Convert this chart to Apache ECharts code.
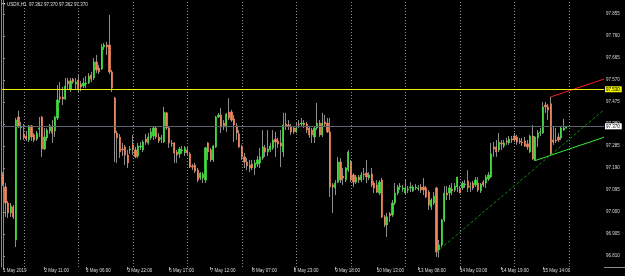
<!DOCTYPE html>
<html><head><meta charset="utf-8">
<script src="https://cdn.jsdelivr.net/npm/echarts@6/dist/echarts.min.js"></script>
<style>html,body{margin:0;padding:0;background:#000;}#c{width:625px;height:276px;}</style>
</head><body><div id="c"></div>
<script>
const symbolName = 'USDX,H1';
const sessionDays = ['1 May','2 May','3 May','6 May','7 May','8 May','9 May','10 May','13 May','14 May','15 May'];
const xTickLabels = ['1 May 2019','2 May 11:00','3 May 06:00','3 May 22:00','6 May 17:00','7 May 12:00','8 May 07:00','8 May 23:00','9 May 18:00','10 May 13:00','13 May 08:00','14 May 03:00','14 May 19:00','15 May 14:00'];
const priceTicks = [96.810, 96.905, 97.000, 97.095, 97.190, 97.285, 97.380, 97.475, 97.570, 97.665, 97.760, 97.855];

const openP = [97.164,97.108,97.039,96.996,97.022,96.879,97.410,97.363,97.337,97.328,97.311,97.372,97.333,97.315,97.358,97.410,97.272,97.320,97.350,97.367,
97.350,97.406,97.497,97.497,97.488,97.566,97.531,97.574,97.553,97.570,97.553,97.544,97.553,97.557,97.592,97.579,97.648,97.622,97.618,97.713,
97.721,97.721,97.605,97.492,97.341,97.324,97.272,97.281,97.246,97.268,97.290,97.268,97.242,97.281,97.268,97.315,97.298,97.320,97.328,97.363,
97.324,97.315,97.302,97.428,97.363,97.298,97.298,97.259,97.251,97.264,97.255,97.268,97.251,97.199,97.203,97.181,97.147,97.147,97.138,97.298,
97.268,97.225,97.281,97.410,97.419,97.384,97.367,97.432,97.432,97.402,97.372,97.337,97.281,97.238,97.216,97.203,97.207,97.190,97.207,97.212,
97.233,97.277,97.259,97.268,97.277,97.315,97.307,97.298,97.259,97.380,97.376,97.367,97.363,97.346,97.380,97.380,97.384,97.380,97.363,97.354,
97.324,97.363,97.384,97.333,97.389,97.384,97.346,97.117,97.104,97.129,97.216,97.155,97.138,97.181,97.216,97.160,97.129,97.151,97.138,97.164,
97.168,97.147,97.164,97.125,97.117,97.082,97.138,96.979,96.944,96.992,96.987,97.039,97.082,97.108,97.099,97.082,97.095,97.104,97.091,97.104,
97.099,97.108,97.108,97.104,97.086,97.022,97.039,97.104,96.836,96.858,96.966,97.082,97.082,97.099,97.095,97.108,97.099,97.104,97.117,97.134,
97.108,97.125,97.117,97.125,97.091,97.129,97.125,97.142,97.151,97.281,97.281,97.268,97.298,97.285,97.307,97.298,97.315,97.328,97.324,97.307,
97.302,97.307,97.294,97.259,97.328,97.225,97.320,97.341,97.341,97.462,97.454,97.467,97.311,97.311,97.324,97.320,97.354,97.362];
const closeP = [97.121,97.039,96.996,97.026,96.979,97.397,97.367,97.367,97.320,97.315,97.372,97.324,97.311,97.341,97.363,97.272,97.324,97.354,97.372,97.341,
97.410,97.484,97.488,97.488,97.544,97.553,97.566,97.561,97.561,97.527,97.540,97.557,97.557,97.587,97.574,97.648,97.613,97.605,97.713,97.721,
97.713,97.605,97.535,97.341,97.320,97.259,97.268,97.246,97.212,97.272,97.272,97.238,97.285,97.285,97.302,97.302,97.324,97.346,97.363,97.324,
97.307,97.320,97.432,97.363,97.298,97.294,97.255,97.246,97.272,97.268,97.277,97.255,97.194,97.194,97.177,97.138,97.168,97.164,97.277,97.259,
97.225,97.285,97.410,97.419,97.367,97.367,97.423,97.406,97.397,97.376,97.341,97.281,97.238,97.216,97.199,97.190,97.190,97.212,97.225,97.238,
97.281,97.259,97.272,97.285,97.311,97.302,97.294,97.285,97.376,97.372,97.372,97.346,97.346,97.363,97.376,97.384,97.376,97.354,97.333,97.333,
97.363,97.384,97.333,97.384,97.380,97.346,97.108,97.108,97.125,97.216,97.138,97.147,97.190,97.259,97.138,97.129,97.151,97.138,97.160,97.160,
97.151,97.160,97.117,97.104,97.086,97.129,96.979,96.944,96.979,96.983,97.039,97.082,97.108,97.112,97.104,97.104,97.099,97.108,97.108,97.108,
97.104,97.095,97.095,97.065,97.030,97.052,97.069,96.827,96.858,96.966,97.082,97.073,97.104,97.091,97.112,97.151,97.082,97.125,97.121,97.104,
97.112,97.104,97.138,97.095,97.121,97.117,97.151,97.160,97.251,97.272,97.259,97.302,97.294,97.298,97.302,97.315,97.311,97.311,97.302,97.302,
97.298,97.285,97.281,97.328,97.229,97.324,97.341,97.346,97.454,97.454,97.441,97.251,97.302,97.307,97.311,97.363,97.363,97.370];
const lowP = [97.112,96.979,96.974,96.979,96.970,96.849,97.363,97.311,97.311,97.307,97.302,97.307,97.302,97.307,97.324,97.238,97.268,97.307,97.337,97.298,
97.324,97.397,97.471,97.462,97.484,97.527,97.518,97.553,97.527,97.518,97.522,97.535,97.535,97.553,97.561,97.570,97.600,97.596,97.613,97.700,
97.678,97.596,97.518,97.216,97.212,97.233,97.242,97.203,97.190,97.251,97.246,97.233,97.233,97.268,97.259,97.290,97.290,97.311,97.311,97.315,
97.298,97.298,97.298,97.354,97.277,97.281,97.212,97.212,97.233,97.251,97.242,97.242,97.190,97.181,97.168,97.129,97.138,97.125,97.125,97.225,
97.216,97.216,97.277,97.406,97.341,97.354,97.346,97.397,97.389,97.302,97.311,97.277,97.225,97.190,97.181,97.172,97.181,97.160,97.194,97.190,
97.225,97.238,97.242,97.259,97.268,97.238,97.277,97.194,97.238,97.354,97.354,97.333,97.337,97.341,97.363,97.367,97.363,97.341,97.320,97.298,
97.298,97.354,97.324,97.324,97.367,97.341,97.065,96.996,97.073,97.125,97.125,97.117,97.129,97.172,97.129,97.108,97.121,97.125,97.129,97.138,
97.125,97.138,97.108,97.082,97.082,97.073,96.974,96.935,96.892,96.957,96.979,97.030,97.073,97.095,97.086,97.073,97.082,97.086,97.086,97.095,
97.091,97.082,97.073,97.060,97.009,97.009,97.030,96.806,96.803,96.849,96.957,97.052,97.052,97.073,97.086,97.086,97.082,97.095,97.104,97.086,
97.086,97.095,97.108,97.086,97.082,97.108,97.104,97.134,97.147,97.238,97.238,97.259,97.268,97.277,97.290,97.290,97.298,97.302,97.290,97.294,
97.285,97.281,97.268,97.255,97.225,97.220,97.281,97.328,97.337,97.428,97.397,97.246,97.290,97.298,97.302,97.311,97.350,97.362];
const highP = [97.172,97.125,97.048,97.039,97.030,97.406,97.437,97.389,97.380,97.350,97.376,97.376,97.341,97.350,97.410,97.415,97.363,97.363,97.380,97.397,
97.415,97.548,97.561,97.540,97.579,97.579,97.579,97.579,97.579,97.592,97.566,97.579,97.587,97.600,97.605,97.665,97.678,97.635,97.726,97.730,
97.734,97.851,97.613,97.497,97.350,97.337,97.298,97.290,97.268,97.285,97.333,97.281,97.298,97.302,97.311,97.337,97.341,97.363,97.367,97.367,
97.341,97.333,97.454,97.432,97.372,97.311,97.302,97.268,97.281,97.285,97.285,97.281,97.259,97.207,97.212,97.190,97.172,97.172,97.281,97.302,
97.277,97.290,97.415,97.428,97.449,97.397,97.428,97.492,97.441,97.419,97.384,97.354,97.290,97.255,97.233,97.225,97.225,97.225,97.242,97.277,
97.354,97.290,97.354,97.298,97.354,97.346,97.320,97.354,97.428,97.428,97.397,97.380,97.372,97.384,97.397,97.406,97.397,97.389,97.372,97.363,
97.367,97.471,97.397,97.428,97.419,97.406,97.406,97.125,97.138,97.238,97.233,97.190,97.194,97.268,97.225,97.168,97.160,97.160,97.172,97.190,
97.225,97.172,97.190,97.134,97.138,97.138,97.147,96.987,96.996,97.000,97.052,97.125,97.117,97.125,97.117,97.138,97.112,97.129,97.117,97.121,
97.117,97.121,97.147,97.112,97.095,97.060,97.086,97.108,96.879,96.970,97.112,97.112,97.117,97.125,97.125,97.151,97.112,97.134,97.138,97.181,
97.129,97.134,97.151,97.151,97.125,97.138,97.160,97.172,97.298,97.302,97.311,97.341,97.311,97.311,97.320,97.328,97.328,97.341,97.333,97.320,
97.320,97.324,97.311,97.333,97.376,97.328,97.354,97.363,97.475,97.475,97.467,97.497,97.367,97.363,97.341,97.367,97.402,97.370];

const resistanceLevel = 97.529;
const redTrend = [[211, 97.497], [231.5, 97.574]];
const greenTrend = [[205, 97.222], [231.5, 97.323]];
const greenDashTrend = [[167, 96.827], [231.5, 97.442]];
const futureSlots = 14;

// categories (hourly bars, session 03:00-23:00, first day from 16:00)
const categories = [];
const dayStarts = [];
sessionDays.forEach((d, k) => {
  const h0 = k === 0 ? 16 : 3;
  for (let h = h0; h <= 23; h++) {
    if (h === 3) dayStarts.push(categories.length);
    categories.push(d + ' ' + String(h).padStart(2, '0') + ':00');
  }
});
const nBars = categories.length;
for (let k = 0; k < futureSlots; k++) categories.push('future ' + k);
const nCat = categories.length;

const wickData = openP.map((o, i) => [o, closeP[i], lowP[i], highP[i]]);
const bodyData = openP.map((o, i) => [o, closeP[i], Math.min(o, closeP[i]), Math.max(o, closeP[i])]);
const last = nBars - 1;
const bid = closeP[last];
const header = symbolName + '  ' + [openP[last], highP[last], lowP[last], closeP[last]].map(v => v.toFixed(3)).join(' ');

const BULL = '#3fe23f', BEAR = '#f3875c', WICK = '#8c8c8c';
const FONT = 'Liberation Sans';
const yMin = 96.7625, yMax = 97.9155;
const showTick = i => i % 16 === 0 && i / 16 < xTickLabels.length;

const chart = echarts.init(document.getElementById('c'), null, { renderer: 'canvas' });
chart.setOption({
  backgroundColor: '#000000',
  animation: false,
  grid: { left: 1, right: 21, top: 0, bottom: 9, containLabel: false },
  xAxis: [{
    type: 'category', data: categories, boundaryGap: true,
    axisLine: { show: false },
    axisTick: { show: true, interval: showTick, alignWithLabel: true, length: 3, lineStyle: { color: '#9a9a9a', width: 1 } },
    axisLabel: { interval: showTick, align: 'left', margin: 1, fontSize: 4.5, fontFamily: FONT, color: '#dcdcdc',
      formatter: (v, i) => xTickLabels[Math.round(i / 16)] || '' },
    splitLine: { show: false }
  }, {
    type: 'value', min: -0.5, max: nCat - 0.5, show: false
  }],
  yAxis: [{
    type: 'value', position: 'right', min: yMin, max: yMax, scale: true,
    axisLine: { show: true, lineStyle: { color: '#8a8a8a', width: 1 } },
    axisTick: { show: true, length: 2, inside: false, customValues: priceTicks, lineStyle: { color: '#9a9a9a' } },
    axisLabel: { margin: 2, fontSize: 4.5, fontFamily: FONT, color: '#dcdcdc', customValues: priceTicks,
      formatter: v => Number(v).toFixed(3) },
    splitLine: { show: false }
  }, {
    type: 'value', position: 'left', min: yMin, max: yMax,
    axisLine: { show: true, lineStyle: { color: '#8a8a8a', width: 1 } },
    axisTick: { show: false }, axisLabel: { show: false }, splitLine: { show: false }
  }],
  graphic: [
    { type: 'polygon', shape: { points: [[2, 3], [5.5, 3], [3.75, 5.5]] }, style: { fill: '#e8e8e8' } },
    { type: 'text', left: 7, top: 2, style: { text: header, fontSize: 4.5, fontFamily: FONT, fill: '#e0e0e0' } },
    { type: 'line', shape: { x1: 604, y1: 267.5, x2: 625, y2: 267.5 }, style: { stroke: '#8a8a8a', lineWidth: 1 } }
  ],
  series: [{
    name: 'wick', type: 'candlestick', data: wickData, barWidth: 1, z: 2,
    itemStyle: { color: WICK, color0: WICK, borderColor: WICK, borderColor0: WICK, borderWidth: 1 },
    emphasis: { disabled: true }, silent: true,
    markLine: {
      silent: true, symbol: 'none', animation: false, z: 1,
      label: { show: false },
      lineStyle: { color: '#8f8f8f', width: 1, type: [1, 2] },
      data: dayStarts.filter(i => i > 0).concat([nBars]).map(i => ({ xAxis: i }))
    }
  }, {
    name: 'body', type: 'candlestick', data: bodyData, barWidth: 1.7, z: 3,
    itemStyle: { color: BULL, color0: BEAR, borderColor: BULL, borderColor0: BEAR, borderWidth: 0.7 },
    emphasis: { disabled: true }, silent: true,
    markLine: {
      silent: true, symbol: 'none', animation: false,
      data: [
        { yAxis: resistanceLevel, lineStyle: { color: '#f2f200', width: 1, type: 'solid' },
          label: { show: true, position: 'end', distance: 1, formatter: p => p.value.toFixed(3), backgroundColor: '#f2f200', color: '#000', fontSize: 4.5, fontFamily: FONT, padding: [1, 2, 0, 1] } },
        { yAxis: bid, lineStyle: { color: '#5c6472', width: 1, type: 'solid' },
          label: { show: true, position: 'end', distance: 1, formatter: p => p.value.toFixed(3), backgroundColor: '#ffffff', color: '#000', fontSize: 4.5, fontFamily: FONT, padding: [1, 2, 0, 1] } }
      ]
    }
  }, {
    name: 'red', type: 'line', xAxisIndex: 1, data: redTrend, symbol: 'none', z: 4, silent: true,
    lineStyle: { color: '#ff1a1a', width: 1 }
  }, {
    name: 'green', type: 'line', xAxisIndex: 1, data: greenTrend, symbol: 'none', z: 4, silent: true,
    lineStyle: { color: '#33ee33', width: 1 }
  }, {
    name: 'greenDash', type: 'line', xAxisIndex: 1, data: greenDashTrend, symbol: 'none', z: 4, silent: true,
    lineStyle: { color: '#0a8a0a', width: 1, type: [3, 2] }
  }]
});
</script></body></html>
